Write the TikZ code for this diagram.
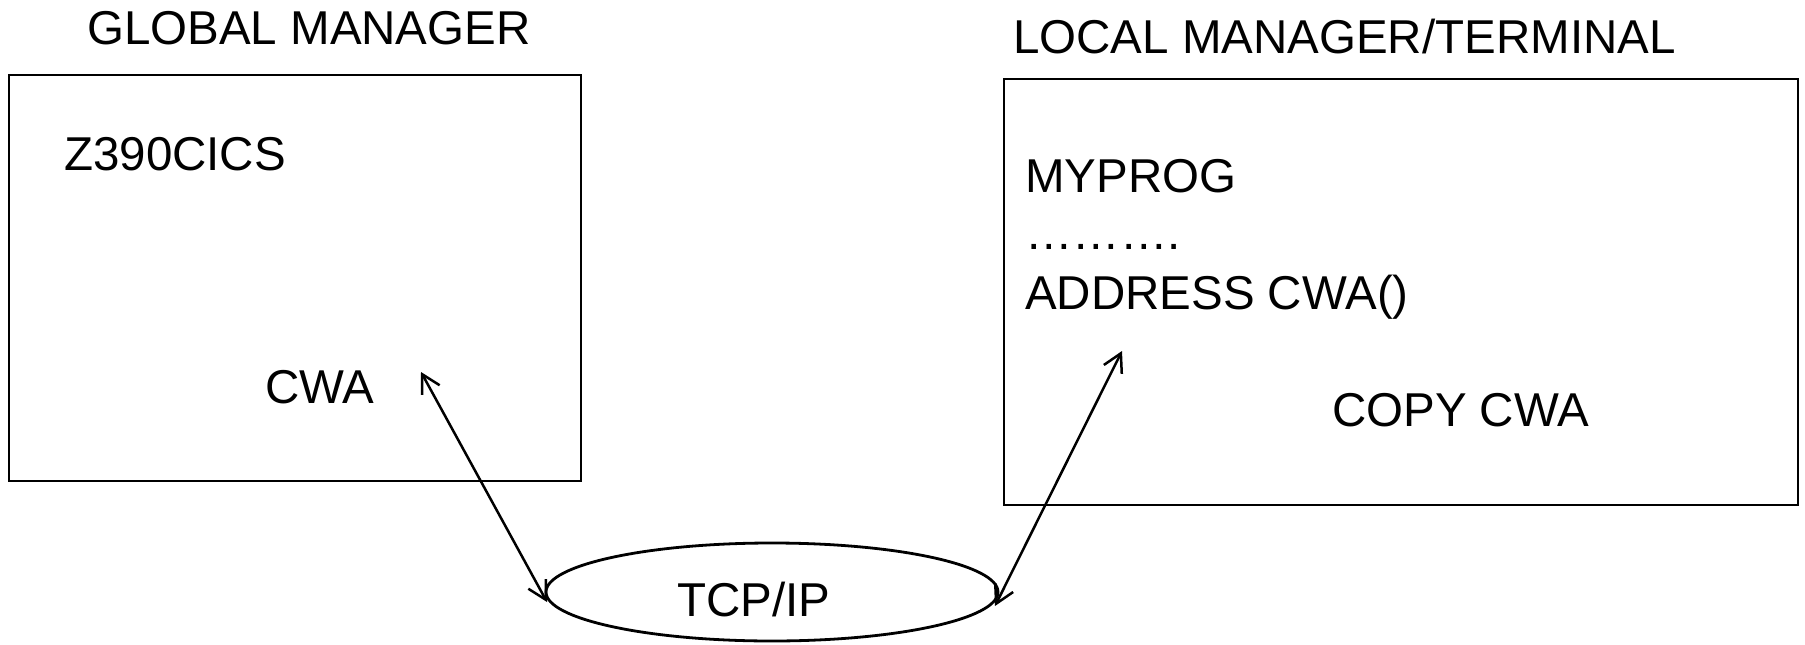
\documentclass[tikz,border=0pt]{standalone}
\usepackage{fontspec}
\setmainfont{Liberation Sans}
\usetikzlibrary{shapes.geometric,arrows.meta}
\begin{document}
\begin{tikzpicture}[x=1pt,y=-1pt,
  lbl/.style={anchor=base west,inner sep=0pt,font=\fontsize{47.5}{57}\selectfont},
  frame/.style={draw,line width=2.8pt,inner sep=0pt},
  link/.style={line width=2.5pt,{Straight Barb[length=18pt,width=20pt,line width=2.5pt]}-{Straight Barb[length=18pt,width=20pt,line width=2.5pt]}}]
\useasboundingbox (0,0) rectangle (1805,645);
\node[frame,minimum width=572pt,minimum height=406pt] (gm) at (295,278) {};
\node[frame,minimum width=794pt,minimum height=426pt] (lm) at (1401,292) {};
\node[frame,ellipse,minimum width=452pt,minimum height=98pt] (tcp) at (772,592) {};
\node[lbl] (tgm) at (87,44) {GLOBAL MANAGER};
\node[lbl] (tlm) at (1013,53) {LOCAL MANAGER/TERMINAL};
\node[lbl] (z390) at (64,170) {Z390CICS};
\node[lbl] (cwa) at (265,403) {CWA};
\node[lbl] (myprog) at (1025,192) {MYPROG};
\node[lbl] (dots) at (1025,249) {……….};
\node[lbl] (addr) at (1025,309) {ADDRESS CWA()};
\node[lbl] (copy) at (1332,426) {COPY CWA};
\node[anchor=base,inner sep=0pt,font=\fontsize{47.5}{57}\selectfont] (tcpt) at (754,616) {TCP/IP};
\coordinate (a1) at (421,372);
\coordinate (a2) at (547,602);
\coordinate (b1) at (1122,351);
\coordinate (b2) at (995,606);
\draw[link] (a1) -- (a2);
\draw[link] (b1) -- (b2);
\end{tikzpicture}
\end{document}
